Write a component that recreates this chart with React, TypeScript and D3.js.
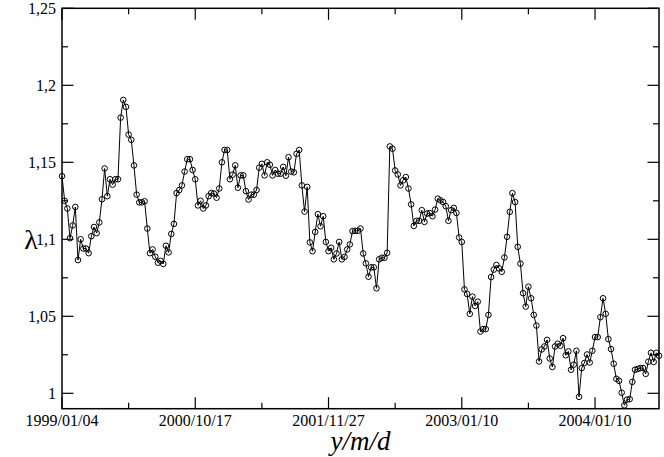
import React from "react";
import * as d3 from "d3";

// lambda values, one per observation (index-based x axis)
const lambdaValues: number[] = [
  1.141, 1.125, 1.12, 1.1007, 1.109, 1.121, 1.0865, 1.1, 1.094, 1.094,
  1.091, 1.102, 1.108, 1.104, 1.111, 1.126, 1.146, 1.128, 1.139, 1.1355,
  1.139, 1.139, 1.179, 1.1905, 1.186, 1.168, 1.1646, 1.148, 1.129, 1.124,
  1.124, 1.1247, 1.107, 1.091, 1.0934, 1.0887, 1.0848, 1.086, 1.084, 1.0958,
  1.0915, 1.1035, 1.11, 1.13, 1.132, 1.135, 1.144, 1.152, 1.152, 1.145,
  1.139, 1.122, 1.125, 1.12, 1.122, 1.128, 1.13, 1.1297, 1.127, 1.133,
  1.15, 1.158, 1.158, 1.139, 1.142, 1.148, 1.1335, 1.1415, 1.1415, 1.1313,
  1.1258, 1.129, 1.129, 1.132, 1.1465, 1.149, 1.1415, 1.15, 1.1484, 1.1415,
  1.145, 1.1426, 1.1426, 1.147, 1.1413, 1.1533, 1.144, 1.1435, 1.1555, 1.158,
  1.135, 1.118, 1.134, 1.098, 1.0923, 1.1048, 1.1163, 1.1085, 1.115, 1.0983,
  1.0923, 1.0945, 1.087, 1.0908, 1.0983, 1.087, 1.0886, 1.0934, 1.0967, 1.1053,
  1.1055, 1.1055, 1.107, 1.0908, 1.0844, 1.0757, 1.0818, 1.0818, 1.0682, 1.087,
  1.088, 1.088, 1.0912, 1.1603, 1.1588, 1.1447, 1.1421, 1.135, 1.1383, 1.1404,
  1.133, 1.1227, 1.1087, 1.112, 1.112, 1.1189, 1.1113, 1.1167, 1.117, 1.115,
  1.1193, 1.1264, 1.1253, 1.1242, 1.1215, 1.112, 1.1189, 1.1204, 1.1171, 1.1012,
  1.0983, 1.0675, 1.0645, 1.0516, 1.0628, 1.0567, 1.0595, 1.0401, 1.0417, 1.0417,
  1.0509, 1.0755, 1.0803, 1.0833, 1.0811, 1.0789, 1.0882, 1.1016, 1.1178, 1.13,
  1.1242, 1.0951, 1.0842, 1.065, 1.0563, 1.0692, 1.0617, 1.0509, 1.044, 1.0207,
  1.0285, 1.0304, 1.0347, 1.0226, 1.0171, 1.0304, 1.0322, 1.0309, 1.0358, 1.0247,
  1.0272, 1.0153, 1.0186, 1.0276, 0.9977, 1.0164, 1.0197, 1.0252, 1.02, 1.0276,
  1.0365, 1.0365, 1.0494, 1.0617, 1.0516, 1.0352, 1.0287, 1.0192, 1.0094, 1.0081,
  1.0004, 0.9922, 0.9959, 0.9962, 1.0074, 1.0153, 1.0158, 1.0164, 1.0164, 1.0126,
  1.0205, 1.0263, 1.0204, 1.0263, 1.0244,
];

const xMajorTicks: number[] = [0, 50, 100, 150, 200];
const xMajorLabels: string[] = ["1999/01/04", "2000/10/17", "2001/11/27", "2003/01/10", "2004/01/10"];
const xMinorTicks: number[] = [25, 75, 125, 175];

const yMajorTicks: number[] = [1, 1.05, 1.1, 1.15, 1.2, 1.25];
const yMajorLabels: string[] = ["1", "1,05", "1,1", "1,15", "1,2", "1,25"];
const yMinorTicks: number[] = [1.025, 1.075, 1.125, 1.175, 1.225];

const xDomain: [number, number] = [0, 224];
const yDomain: [number, number] = [0.99, 1.25];

const W = 664;
const H = 457;
const L = 62;
const R = 659;
const T = 8.3;
const B = 408.7;

export default function App() {
  const x = d3.scaleLinear().domain(xDomain).range([L, R]);
  const y = d3.scaleLinear().domain(yDomain).range([B, T]);
  const line = d3
    .line<number>()
    .x((_, i) => x(i))
    .y((d) => y(d));

  const font = "'Liberation Serif', 'DejaVu Serif', serif";
  const majorLen = 11.5;
  const minorLen = 6;

  return (
    <svg
      width={W}
      height={H}
      viewBox={`0 0 ${W} ${H}`}
      style={{ position: "absolute", left: 0, top: 0, background: "#fff" }}
    >
      <rect x={0} y={0} width={W} height={H} fill="#fff" />
      {/* data line */}
      <path d={line(lambdaValues) || ""} fill="none" stroke="#000" strokeWidth={1} />
      {lambdaValues.map((v, i) => (
        <circle key={i} cx={x(i)} cy={y(v)} r={2.8} fill="none" stroke="#000" strokeWidth={1} />
      ))}
      {/* frame */}
      <rect x={L} y={T} width={R - L} height={B - T} fill="none" stroke="#000" strokeWidth={1.5} />
      {/* x ticks bottom & top */}
      {xMajorTicks.map((t) => (
        <g key={"xm" + t}>
          <line x1={x(t)} x2={x(t)} y1={B} y2={B - majorLen} stroke="#000" strokeWidth={1.2} />
          <line x1={x(t)} x2={x(t)} y1={T} y2={T + majorLen} stroke="#000" strokeWidth={1.2} />
        </g>
      ))}
      {xMinorTicks.map((t) => (
        <g key={"xn" + t}>
          <line x1={x(t)} x2={x(t)} y1={B} y2={B - minorLen} stroke="#000" strokeWidth={1.2} />
          <line x1={x(t)} x2={x(t)} y1={T} y2={T + minorLen} stroke="#000" strokeWidth={1.2} />
        </g>
      ))}
      {xMajorTicks.map((t, i) => (
        <text
          key={"xl" + t}
          x={x(t)}
          y={426}
          textAnchor="middle"
          fontFamily={font}
          fontSize={16}
          fill="#000"
        >
          {xMajorLabels[i]}
        </text>
      ))}
      {/* y ticks left & right */}
      {yMajorTicks.map((t) => (
        <g key={"ym" + t}>
          <line x1={L} x2={L + majorLen} y1={y(t)} y2={y(t)} stroke="#000" strokeWidth={1.2} />
          <line x1={R} x2={R - majorLen} y1={y(t)} y2={y(t)} stroke="#000" strokeWidth={1.2} />
        </g>
      ))}
      {yMinorTicks.map((t) => (
        <g key={"yn" + t}>
          <line x1={L} x2={L + minorLen} y1={y(t)} y2={y(t)} stroke="#000" strokeWidth={1.2} />
          <line x1={R} x2={R - minorLen} y1={y(t)} y2={y(t)} stroke="#000" strokeWidth={1.2} />
        </g>
      ))}
      {yMajorTicks.map((t, i) => (
        <text
          key={"yl" + t}
          x={56}
          y={y(t) + 5.5}
          textAnchor="end"
          fontFamily={font}
          fontSize={16}
          fill="#000"
        >
          {yMajorLabels[i]}
        </text>
      ))}
      {/* axis titles */}
      <text
        x={(L + R) / 2}
        y={450}
        textAnchor="middle"
        fontFamily={font}
        fontStyle="italic"
        fontSize={27}
        fill="#000"
      >
        y/m/d
      </text>
      <text x={31} y={249} textAnchor="middle" fontFamily={font} fontSize={28} fill="#000">
        λ
      </text>
    </svg>
  );
}
